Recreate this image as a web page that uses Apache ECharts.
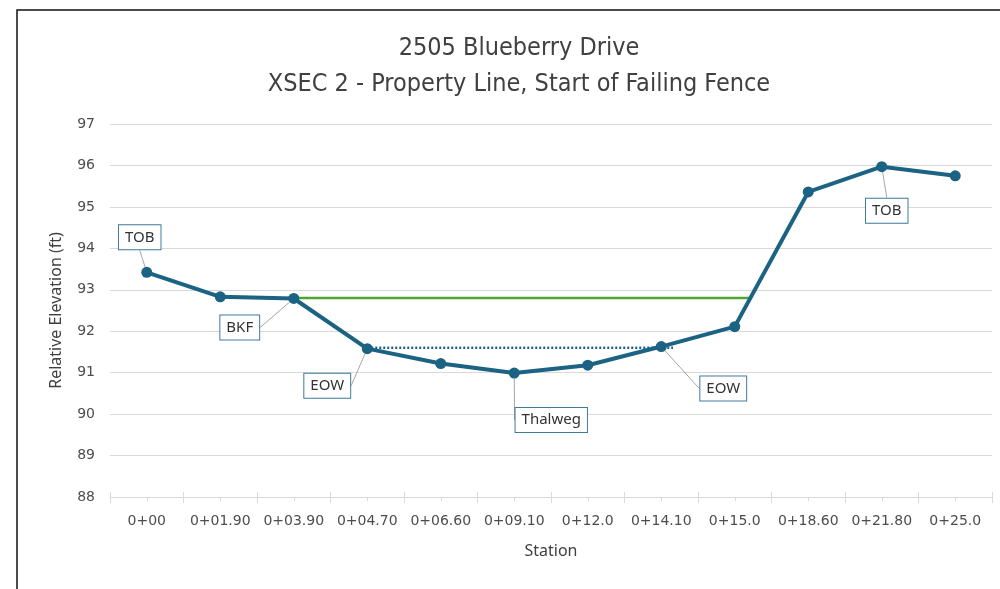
<!DOCTYPE html>
<html>
<head>
<meta charset="utf-8">
<script src="https://cdn.jsdelivr.net/npm/echarts@6/dist/echarts.min.js"></script>
<style>
  html, body { margin: 0; padding: 0; background: #fff; }
  #chart { width: 1000px; height: 589px; }
</style>
</head>
<body>
<div id="chart"></div>
<script>
// stations along the cross section
const stations = ['0+00', '0+01.90', '0+03.90', '0+04.70', '0+06.60', '0+09.10',
  '0+12.0', '0+14.10', '0+15.0', '0+18.60', '0+21.80', '0+25.0']
// relative elevation (ft)
const elevation = [93.42, 92.83, 92.79, 91.58, 91.22, 90.99, 91.18, 91.63, 92.11, 95.36, 95.97, 95.75]
// callout text per station ('' = no callout)
const callouts = ['TOB', '', 'BKF', 'EOW', '', 'Thalweg', '', 'EOW', '', '', 'TOB', '']
// bankfull line and water surface (x in category widths, 0..12)
const bankfull = [[2.5, 92.8], [8.71, 92.8]]
const waterSurface = [[3.5, 91.6], [7.66, 91.6]]
const yTicks = [88, 97, 1] // min, max, step

// where each callout box sits relative to its point
const calloutShift = {
  0: [-7, -35],
  2: [-54, 29],
  3: [-40, 37],
  5: [37, 47],
  7: [62, 42],
  10: [5, 44]
}

const lineColor = '#1b6283'
const gridColor = '#d9d9d9'
const textColor = '#4d4d4d'

const chart = echarts.init(document.getElementById('chart'))

const seriesData = elevation.map((v, i) => {
  if (!callouts[i]) return v
  return {
    value: v,
    label: { show: true, formatter: callouts[i] }
  }
})

const option = {
  animation: false,
  backgroundColor: '#fff',
  title: {
    text: '2505 Blueberry Drive\nXSEC 2 - Property Line, Start of Failing Fence',
    left: 514,
    top: 25,
    textAlign: 'center',
    textStyle: {
      fontFamily: 'Liberation Sans Narrow, DejaVu Sans Condensed, sans-serif',
      fontWeight: 'normal',
      fontSize: 25,
      lineHeight: 36,
      color: '#404040'
    }
  },
  graphic: [
    {
      type: 'rect',
      shape: { x: 17, y: 10, width: 1000, height: 600 },
      style: { fill: 'none', stroke: '#111', lineWidth: 1.5 },
      silent: true
    }
  ],
  grid: { left: 110, right: 8, top: 124, bottom: 92 },
  xAxis: [
    {
      type: 'category',
      data: stations,
      boundaryGap: true,
      name: 'Station',
      nameLocation: 'middle',
      nameGap: 46,
      nameTextStyle: { fontFamily: 'Noto Sans', fontSize: 16, color: '#404040' },
      axisLine: { show: true, lineStyle: { color: gridColor, width: 1 } },
      axisTick: { show: true, inside: true, length: 5, interval: 0, lineStyle: { color: gridColor } },
      axisLabel: { interval: 0, fontFamily: 'DejaVu Sans', fontSize: 14, color: textColor, margin: 17 }
    },
    {
      type: 'value',
      min: 0,
      max: 12,
      interval: 1,
      position: 'bottom',
      show: true,
      axisLine: { show: false },
      axisTick: { show: true, length: 6, lineStyle: { color: gridColor } },
      minorTick: { show: true, splitNumber: 2, length: 4, lineStyle: { color: gridColor } },
      axisLabel: { show: false },
      splitLine: { show: false }
    }
  ],
  yAxis: {
    type: 'value',
    min: yTicks[0],
    max: yTicks[1],
    interval: yTicks[2],
    name: 'Relative Elevation (ft)',
    nameLocation: 'middle',
    nameGap: 46,
    nameTextStyle: { fontFamily: 'Noto Sans', fontSize: 16, color: '#404040' },
    axisLine: { show: false },
    axisTick: { show: false },
    axisLabel: { fontFamily: 'DejaVu Sans', fontSize: 14, color: textColor, margin: 15 },
    splitLine: { lineStyle: { color: gridColor, width: 1 } }
  },
  series: [
    {
      name: 'Bankfull',
      type: 'line',
      xAxisIndex: 1,
      data: bankfull,
      symbol: 'none',
      lineStyle: { color: '#4ea72e', width: 2.5 },
      z: 2
    },
    {
      name: 'Water Surface',
      type: 'line',
      xAxisIndex: 1,
      data: waterSurface,
      symbol: 'none',
      lineStyle: { color: lineColor, width: 2.5, type: [2, 2] },
      z: 2
    },
    {
      name: 'Ground',
      type: 'line',
      xAxisIndex: 0,
      data: seriesData,
      symbol: 'circle',
      symbolSize: 11,
      itemStyle: { color: lineColor },
      lineStyle: { color: lineColor, width: 4 },
      z: 5,
      label: {
        show: false,
        position: 'inside',
        fontFamily: 'Noto Sans',
        fontSize: 15,
        color: '#333',
        backgroundColor: '#fff',
        borderColor: '#3f7a98',
        borderWidth: 1,
        padding: [5, 6, 4, 6]
      },
      labelLine: {
        show: true,
        lineStyle: { color: '#a6a6a6', width: 1 }
      },
      labelLayout: function(params) {
        const s = calloutShift[params.dataIndex]
        if (!s) return {}
        return { dx: s[0], dy: s[1] }
      }
    }
  ]
}

chart.setOption(option)
</script>
</body>
</html>
